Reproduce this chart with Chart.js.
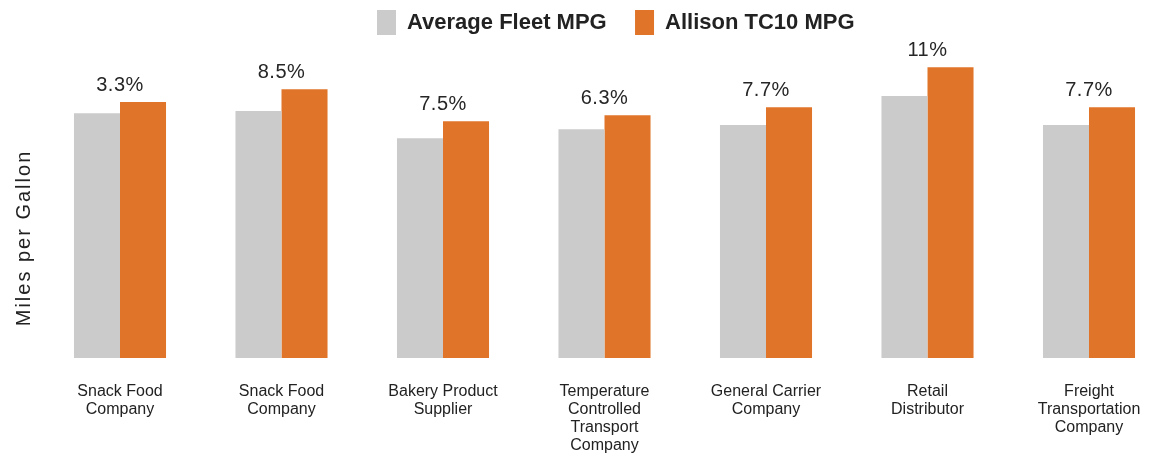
<!DOCTYPE html>
<html>
<head>
<meta charset="utf-8">
<script src="https://cdn.jsdelivr.net/npm/chart.js@4"></script>
<style>
  html, body { margin: 0; padding: 0; background: #fff; }
  #wrap { width: 1153px; height: 456px; }
</style>
</head>
<body>
<div id="wrap"><canvas id="mpgChart"></canvas></div>
<script>
// fleet names (multi-line tick labels)
const categories = [
    ["Snack Food", "Company"],
    ["Snack Food", "Company"],
    ["Bakery Product", "Supplier"],
    ["Temperature", "Controlled", "Transport", "Company"],
    ["General Carrier", "Company"],
    ["Retail", "Distributor"],
    ["Freight", "Transportation", "Company"]
];
const fleetMpg   = [7.04, 7.10, 6.32, 6.58, 6.70, 7.53, 6.70];
const allisonMpg = [7.36, 7.73, 6.81, 6.98, 7.21, 8.36, 7.21];
const gainLabels = ["3.3%", "8.5%", "7.5%", "6.3%", "7.7%", "11%", "7.7%"];

const FONT = "'Liberation Sans', Arial, sans-serif";

// percent labels above each pair + rotated y title
const annotate = {
    id: "annotate",
    afterLayout(chart) {
        // push the legend right so the first box starts near x=377
        const lg = chart.legend;
        const pad = lg.options.labels.padding;
        const startX = (lg.left + pad + lg.right - lg.lineWidths[0]) / 2;
        const shift = 377 - startX;
        lg.left += shift;
        lg.right += shift;
    },
    afterDatasetsDraw(chart) {
        const ctx = chart.ctx;
        const meta = chart.getDatasetMeta(1);
        const xs = chart.scales.x;
        ctx.save();
        ctx.fillStyle = "#262626";
        ctx.font = "20px " + FONT;
        ctx.letterSpacing = "0.5px";
        ctx.textAlign = "center";
        ctx.textBaseline = "bottom";
        meta.data.forEach((bar, i) => {
            ctx.fillText(gainLabels[i], xs.getPixelForValue(i), bar.y - 7);
        });
        ctx.translate(24, 238);
        ctx.rotate(-Math.PI / 2);
        ctx.textBaseline = "middle";
        ctx.fillStyle = "#222";
        ctx.font = "20px " + FONT;
        ctx.letterSpacing = "2px";
        ctx.fillText("Miles per Gallon", 0, 0);
        ctx.restore();
        // x axis (z: 1) is drawn next, with a bit of tracking
        ctx.letterSpacing = "1px";
    },
    afterDraw(chart) {
        chart.ctx.letterSpacing = "0px";
    }
};

new Chart(document.getElementById("mpgChart"), {
    type: "bar",
    data: {
        labels: categories,
        datasets: [{
            label: "Average Fleet MPG",
            data: fleetMpg,
            backgroundColor: "#cbcbcb",
            barPercentage: 1,
            categoryPercentage: 0.57,
            clip: false
        }, {
            label: "Allison TC10 MPG",
            data: allisonMpg,
            backgroundColor: "#e07428",
            barPercentage: 1,
            categoryPercentage: 0.57,
            clip: false
        }]
    },
    options: {
        responsive: true,
        maintainAspectRatio: false,
        animation: false,
        layout: { padding: { left: 0, right: 64, top: 0, bottom: 0 } },
        plugins: {
            legend: {
                position: "top",
                labels: {
                    boxWidth: 19,
                    boxHeight: 25,
                    padding: 10,
                    color: "#222",
                    font: { family: FONT, size: 22, weight: "bold" },
                    generateLabels(chart) {
                        const items = Chart.defaults.plugins.legend.labels.generateLabels(chart);
                        items[0].text += "   ";
                        return items;
                    }
                }
            },
            tooltip: { enabled: false }
        },
        scales: {
            x: {
                z: 1,
                offset: false,
                grid: { display: false },
                border: { display: false },
                ticks: {
                    maxRotation: 0,
                    autoSkip: false,
                    padding: 17,
                    color: "#222",
                    font: { family: FONT, size: 16, lineHeight: 1.125 }
                },
                afterFit(scale) {
                    scale.height = 98;
                    scale.paddingLeft = 0;
                    scale.paddingRight = 0;
                }
            },
            y: {
                min: 0,
                max: 9,
                grid: { display: false },
                border: { display: false },
                ticks: { display: false },
                afterFit(scale) { scale.width = 120; }
            }
        }
    },
    plugins: [annotate]
});
</script>
</body>
</html>
